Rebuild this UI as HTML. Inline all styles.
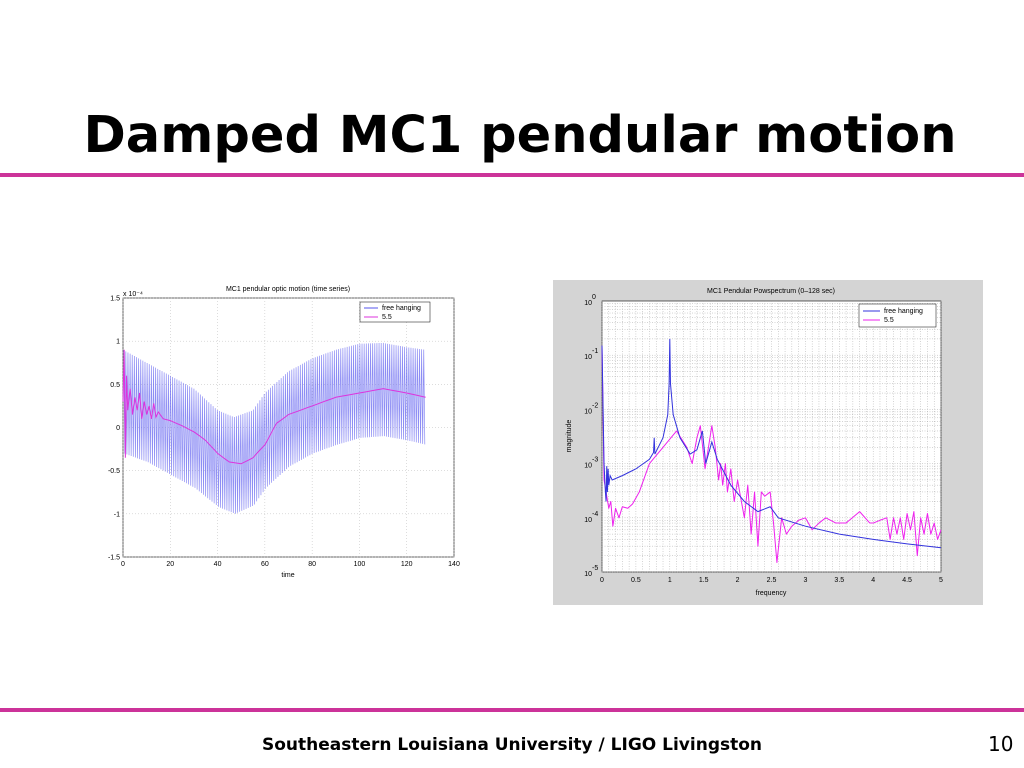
<!DOCTYPE html>
<html><head><meta charset="utf-8"><style>
body{margin:0;width:1024px;height:768px;background:#fff;overflow:hidden;font-family:"Liberation Sans",sans-serif;position:relative}
#title{position:absolute;top:106px;left:0;width:1040px;text-align:center;font-weight:bold;font-size:51px;color:#000;font-family:"DejaVu Sans",sans-serif}
.rule{position:absolute;left:0;width:1024px;height:4px;background:#cc3399}
#foot{position:absolute;top:735px;left:0;width:1024px;text-align:center;font-weight:bold;font-size:17px;font-family:"DejaVu Sans",sans-serif}
#pg{position:absolute;top:732px;left:988px;font-size:20px;font-family:"DejaVu Sans",sans-serif}
svg{position:absolute;left:0;top:0}
svg text{font-family:"Liberation Sans",sans-serif;font-size:7px;fill:#000}
</style></head><body>
<div id="title">Damped MC1 pendular motion</div>
<div class="rule" style="top:173px"></div>
<div class="rule" style="top:708px"></div>
<div id="foot">Southeastern Louisiana University / LIGO Livingston</div>
<div id="pg">10</div>
<svg id="s" width="1024" height="768"></svg>
<script>
// Left chart data (x1e-4)
const envT=[0,10,20,30,40,47,55,60,70,80,90,100,110,120,128];
const envUpper=[0.9,0.75,0.6,0.45,0.2,0.12,0.2,0.4,0.65,0.8,0.9,0.97,0.98,0.93,0.9];
const envLower=[-0.3,-0.4,-0.55,-0.7,-0.92,-1.0,-0.9,-0.7,-0.45,-0.3,-0.2,-0.12,-0.1,-0.15,-0.2];
const magT=[0,0.5,1,1.5,2,3,4,5,6,7,8,9,10,11,12,13,14,15,17,20,25,30,35,40,45,50,55,60,65,70,80,90,100,110,120,128];
const magV=[0.3,0.9,-0.35,0.6,0.2,0.45,0.15,0.35,0.2,0.4,0.1,0.3,0.15,0.25,0.1,0.28,0.12,0.18,0.1,0.08,0.02,-0.05,-0.15,-0.3,-0.4,-0.42,-0.35,-0.2,0.05,0.15,0.25,0.35,0.4,0.45,0.4,0.35];
const leftXTicks=[0,20,40,60,80,100,120,140];
const leftYTicks=[-1.5,-1,-0.5,0,0.5,1,1.5];
// Right chart data
const blueF=[0,0.03,0.05,0.06,0.07,0.08,0.09,0.1,0.12,0.15,0.3,0.5,0.7,0.76,0.77,0.78,0.9,0.97,0.99,1.0,1.01,1.05,1.15,1.3,1.4,1.48,1.53,1.62,1.7,1.9,2.1,2.3,2.48,2.6,3,3.5,4,4.5,5];
const blueM=[0.15,0.001,0.0003,0.0002,0.0009,0.0003,0.0008,0.0004,0.0006,0.0005,0.0006,0.0008,0.0012,0.0016,0.003,0.0015,0.003,0.008,0.03,0.2,0.03,0.008,0.003,0.0015,0.0018,0.004,0.001,0.0025,0.0012,0.0004,0.0002,0.00013,0.00016,0.0001,0.00007,0.00005,0.00004,0.000033,0.000028];
const pinkF=[0,0.03,0.06,0.1,0.13,0.16,0.2,0.25,0.3,0.38,0.45,0.55,0.7,0.9,1.1,1.25,1.33,1.4,1.45,1.52,1.57,1.62,1.67,1.72,1.75,1.78,1.82,1.85,1.9,1.95,2.0,2.03,2.1,2.15,2.2,2.25,2.3,2.35,2.4,2.48,2.53,2.58,2.65,2.72,2.8,2.9,3,3.1,3.2,3.3,3.45,3.6,3.8,3.95,4,4.1,4.2,4.25,4.3,4.35,4.4,4.45,4.5,4.55,4.6,4.65,4.7,4.75,4.8,4.85,4.9,4.95,5];
const pinkM=[0.15,0.0005,0.0003,0.00015,0.0002,0.00007,0.00015,0.0001,0.00016,0.00015,0.00018,0.0003,0.001,0.002,0.004,0.002,0.001,0.003,0.005,0.0008,0.002,0.005,0.002,0.0005,0.001,0.0004,0.001,0.0003,0.0008,0.0002,0.0005,0.0003,0.0001,0.0004,0.00005,0.0003,0.00003,0.0003,0.00025,0.0003,0.00008,0.000015,0.0001,0.00005,0.00007,0.00009,0.0001,0.00006,0.00008,0.0001,0.00008,0.00008,0.00013,0.00008,0.00008,0.00009,0.0001,0.00004,0.0001,0.00005,0.0001,0.00004,0.00012,0.00006,0.00013,0.00002,0.0001,0.00005,0.00012,0.00005,0.00008,0.00004,0.00006];
const rightXTicks=[0,0.5,1,1.5,2,2.5,3,3.5,4,4.5,5];
const rightYExp=[0,-1,-2,-3,-4,-5];

const NS='http://www.w3.org/2000/svg',S=document.getElementById('s');
function mk(t,a,p){const e=document.createElementNS(NS,t);for(const k in a)e.setAttribute(k,a[k]);(p||S).appendChild(e);return e;}
function interp(xs,ys,x){for(let i=1;i<xs.length;i++){if(x<=xs[i]){const f=(x-xs[i-1])/(xs[i]-xs[i-1]);return ys[i-1]+f*(ys[i]-ys[i-1]);}}return ys[ys.length-1];}

// LEFT
const L={x0:123,x1:454,y0:298,y1:557};
const lx=t=>L.x0+t/140*(L.x1-L.x0), ly=v=>L.y1-(v+1.5)/3*(L.y1-L.y0);
let r=mk('rect',{x:L.x0,y:L.y0,width:L.x1-L.x0,height:L.y1-L.y0,fill:'#fff',stroke:'#000','stroke-width':0.6});

leftXTicks.forEach(t=>{mk('line',{x1:lx(t),x2:lx(t),y1:L.y0,y2:L.y1,stroke:'#bbb','stroke-width':0.5,'stroke-dasharray':'1,2'});const tx=mk('text',{x:lx(t),y:L.y1+9,'text-anchor':'middle'});tx.textContent=t;});
leftYTicks.forEach(v=>{mk('line',{x1:L.x0,x2:L.x1,y1:ly(v),y2:ly(v),stroke:'#bbb','stroke-width':0.5,'stroke-dasharray':'1,2'});const tx=mk('text',{x:L.x0-3,y:ly(v)+2.5,'text-anchor':'end'});tx.textContent=v;});
let d='';for(let t=0.3;t<=128;t+=0.9){const u=interp(envT,envUpper,t),l=interp(envT,envLower,t);d+=(d?'L':'M')+lx(t)+','+ly(u)+'L'+lx(t+0.45)+','+ly(l);}
let p=mk('path',{d:d,fill:'none',stroke:'#6666f0','stroke-width':0.7,'stroke-opacity':0.75});
d='';magT.forEach((t,i)=>d+=(i?'L':'M')+lx(t)+','+ly(magV[i]));
p=mk('path',{d:d,fill:'none',stroke:'#dd33dd','stroke-width':1});
let tt=mk('text',{x:288,y:291,'text-anchor':'middle'});tt.textContent='MC1 pendular optic motion (time series)';
tt=mk('text',{x:123,y:296});tt.textContent='x 10⁻⁴';
tt=mk('text',{x:288,y:577,'text-anchor':'middle'});tt.textContent='time';
let lg=mk('g',{});
mk('rect',{x:360,y:302,width:70,height:20,fill:'#fff',stroke:'#000','stroke-width':0.5},lg);
mk('line',{x1:364,x2:378,y1:308,y2:308,stroke:'#5555ee'},lg);mk('line',{x1:364,x2:378,y1:317,y2:317,stroke:'#dd33dd'},lg);
mk('text',{x:382,y:310},lg).textContent='free hanging';mk('text',{x:382,y:319},lg).textContent='5.5';

// RIGHT
mk('rect',{x:553,y:280,width:430,height:325,fill:'#d4d4d4'});
const R={x0:602,x1:941,y0:301,y1:572};
const rx=f=>R.x0+f/5*(R.x1-R.x0), ry=m=>R.y0+(-Math.log10(m))/5*(R.y1-R.y0);
r=mk('rect',{x:R.x0,y:R.y0,width:R.x1-R.x0,height:R.y1-R.y0,fill:'#fff',stroke:'#000','stroke-width':0.6});

for(let f=0;f<=5.001;f+=0.1)mk('line',{x1:rx(f),x2:rx(f),y1:R.y0,y2:R.y1,stroke:'#aaa','stroke-width':0.5,'stroke-dasharray':'1,1.5'});
for(let e=0;e<5;e++)for(let k=1;k<10;k++){const y=ry(Math.pow(10,-e-1)*k);mk('line',{x1:R.x0,x2:R.x1,y1:y,y2:y,stroke:'#aaa','stroke-width':0.5,'stroke-dasharray':'1,1.5'});}
rightXTicks.forEach(f=>{const tx=mk('text',{x:rx(f),y:R.y1+10,'text-anchor':'middle'});tx.textContent=f;});
rightYExp.forEach(e=>{const y=ry(Math.pow(10,e));const tx=mk('text',{x:R.x0-10,y:y+4,'text-anchor':'end'});tx.textContent='10';const s2=mk('text',{x:R.x0-10,y:y-2,'font-size':5});s2.textContent=e;});
d='';pinkF.forEach((f,i)=>d+=(i?'L':'M')+rx(f)+','+ry(pinkM[i]));
p=mk('path',{d:d,fill:'none',stroke:'#ee22ee','stroke-width':1,'stroke-linejoin':'round'});
d='';blueF.forEach((f,i)=>d+=(i?'L':'M')+rx(f)+','+ry(blueM[i]));
p=mk('path',{d:d,fill:'none',stroke:'#3333dd','stroke-width':1});
tt=mk('text',{x:771,y:293,'text-anchor':'middle'});tt.textContent='MC1 Pendular Powspectrum (0–128 sec)';
tt=mk('text',{x:771,y:595,'text-anchor':'middle'});tt.textContent='frequency';
tt=mk('text',{x:571,y:436,'text-anchor':'middle',transform:'rotate(-90 571 436)'});tt.textContent='magnitude';
lg=mk('g',{});
mk('rect',{x:859,y:304,width:77,height:23,fill:'#fff',stroke:'#000','stroke-width':0.5},lg);
mk('line',{x1:863,x2:880,y1:311,y2:311,stroke:'#3333dd'},lg);mk('line',{x1:863,x2:880,y1:320,y2:320,stroke:'#ee22ee'},lg);
mk('text',{x:884,y:313},lg).textContent='free hanging';mk('text',{x:884,y:322},lg).textContent='5.5';
</script>
</body></html>
